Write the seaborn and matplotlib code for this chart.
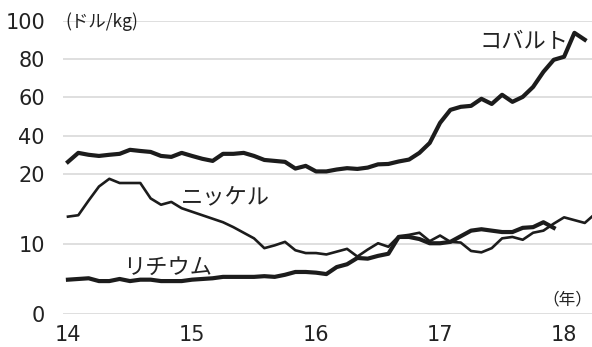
import numpy as np
import pandas as pd
import matplotlib
matplotlib.use("Agg")
import matplotlib.pyplot as plt
import seaborn as sns

# monthly prices, Jan 2014 onwards (USD/kg)
cobalt = [26.3, 31.0, 30.0, 29.4, 30.0, 30.5, 32.6, 32.0, 31.5, 29.4,
          28.9, 31.0, 29.4, 27.9, 26.8, 30.5, 30.5, 31.0, 29.4, 27.3,
          26.8, 26.3, 22.8, 24.2, 21.3, 21.3, 22.3, 23.0, 22.6, 23.3,
          25.0, 25.2, 26.5, 27.5, 31.0, 36.2, 46.7, 53.5, 55.1, 55.6,
          59.3, 56.6, 61.4, 57.7, 60.3, 65.5, 73.4, 79.7, 81.3, 93.8,
          90.2]
nickel = [13.9, 14.1, 16.2, 18.2, 19.3, 18.7, 18.7, 18.7, 16.5, 15.6,
          16.0, 15.1, 14.6, 14.1, 13.6, 13.1, 12.4, 11.6, 10.8, 9.4,
          9.8, 10.3, 9.1, 8.7, 8.7, 8.5, 8.9, 9.3, 8.2, 9.2,
          10.1, 9.6, 11.1, 11.3, 11.6, 10.4, 11.2, 10.3, 10.2, 9.0,
          8.8, 9.4, 10.8, 11.0, 10.6, 11.6, 11.9, 12.9, 13.8, 13.4,
          13.0, 14.3]
lithium = [4.9, 5.0, 5.1, 4.7, 4.7, 5.0, 4.7, 4.9, 4.9, 4.7,
           4.7, 4.7, 4.9, 5.0, 5.1, 5.3, 5.3, 5.3, 5.3, 5.4,
           5.3, 5.6, 6.0, 6.0, 5.9, 5.7, 6.7, 7.1, 8.0, 7.9,
           8.3, 8.6, 11.0, 11.0, 10.7, 10.1, 10.1, 10.3, 11.1, 11.9,
           12.1, 11.9, 11.7, 11.7, 12.3, 12.4, 13.1, 12.3]

year_ticks = [2014, 2015, 2016, 2017, 2018]
year_labels = ["14", "15", "16", "17", "18"]
y_ticks = [0, 10, 20, 40, 60, 80, 100]


def months(n):
    return 2014 + np.arange(n) / 12.0


# 0-20 stretched, 20-100 compressed (two linear pieces)
def fwd(v):
    v = np.asarray(v, dtype=float)
    return np.where(v <= 20, v * 7.0, 140.0 + (v - 20) * 1.91)


def inv(p):
    p = np.asarray(p, dtype=float)
    return np.where(p <= 140, p / 7.0, 20 + (p - 140) / 1.91)


W, H = 592, 347
fig = plt.figure(figsize=(W / 100, H / 100), dpi=100)
ax = fig.add_axes([63 / W, (H - 314) / H, (W - 63) / W, 293 / H])

ink = "#1c1c1c"
df_co = pd.DataFrame({"x": months(len(cobalt)), "y": cobalt})
df_ni = pd.DataFrame({"x": months(len(nickel)), "y": nickel})
df_li = pd.DataFrame({"x": months(len(lithium)), "y": lithium})

sns.lineplot(data=df_ni, x="x", y="y", ax=ax, color=ink, lw=1.9)
sns.lineplot(data=df_li, x="x", y="y", ax=ax, color=ink, lw=3.0)
sns.lineplot(data=df_co, x="x", y="y", ax=ax, color=ink, lw=3.0)

ax.set_yscale("function", functions=(fwd, inv))
ax.set_ylim(0, 100)
ax.set_xlim(2014 - 0.48 / 12, 2014 + 50.7 / 12)
ax.set_yticks(y_ticks)
ax.set_xticks(year_ticks)
ax.set_xticklabels(year_labels)
ax.set_xlabel("")
ax.set_ylabel("")
ax.minorticks_off()
ax.grid(axis="y", color="#d9d9d9", lw=1.2)
ax.set_axisbelow(True)
for s in ax.spines.values():
    s.set_visible(False)

num_font = ["Liberation Sans Narrow", "DejaVu Sans"]
ax.tick_params(axis="y", length=0, pad=13, labelsize=15, labelcolor="#222222")
ax.tick_params(axis="x", length=0, pad=8, labelsize=15, labelcolor="#222222")
for lab in ax.get_yticklabels() + ax.get_xticklabels():
    lab.set_family(num_font)

jp = ["Noto Sans CJK JP", "DejaVu Sans"]
fig.text(65 / W, 1 - 22 / H, "(ドル/kg)", fontsize=12.5, family=jp,
         va="center", ha="left", color="#222222")
fig.text(524 / W, 1 - 42 / H, "コバルト", fontsize=16, family=jp,
         va="center", ha="center", color="#222222")
fig.text(225 / W, 1 - 197 / H, "ニッケル", fontsize=16, family=jp,
         va="center", ha="center", color="#222222")
fig.text(168 / W, 1 - 267 / H, "リチウム", fontsize=16, family=jp,
         va="center", ha="center", color="#222222")
fig.text(592 / W, 1 - 300 / H, "（年）", fontsize=12, family=jp,
         va="center", ha="right", color="#222222")

fig.savefig("out.png", dpi=100, facecolor="white")
